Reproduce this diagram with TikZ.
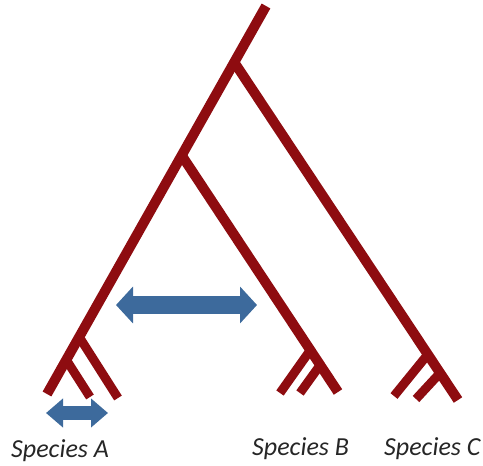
\documentclass[tikz,border=0pt]{standalone}
\usepackage{fontspec}
\setmainfont{Carlito}
\usetikzlibrary{calc}
\usetikzlibrary{arrows.meta}
\definecolor{treered}{RGB}{142,12,16}
\definecolor{gapblue}{RGB}{61,106,156}

\begin{document}
\begin{tikzpicture}[x=1pt, y=-1pt,
    branch/.style={treered, line width=10pt},
    twig/.style={treered, line width=9pt},
    gaparrow/.style={gapblue, line width=#1, {Triangle[length=17pt,width=2*#1]}-{Triangle[length=17pt,width=2*#1]}},
    species/.style={font=\fontsize{26}{30}\selectfont\itshape, text=black!85, anchor=base west, inner sep=0pt}]
    \useasboundingbox (0,0) rectangle (483,466);

    \coordinate (root) at (266, 6);
    \coordinate (leafA) at (47, 394);
    \coordinate (n1) at ($(root)!0.145!(leafA)$);
    \coordinate (n2) at ($(root)!0.385!(leafA)$);
    \coordinate (leafB) at (338, 392);
    \coordinate (leafC) at (458, 400);

    % main branches
    \draw [branch] (root) -- (leafA);
    \draw [branch] (n1) -- (leafC);
    \draw [branch] (n2) -- (leafB);

    % tips of species A
    \coordinate (a1) at ($(root)!0.853!(leafA)$);
    \coordinate (a2) at ($(root)!0.912!(leafA)$);
    \draw [twig] (a1) -- (118, 398);
    \draw [twig] (a2) -- (90, 397);

    % tips of species B
    \coordinate (b1) at ($(n2)!0.823!(leafB)$);
    \coordinate (b2) at ($(n2)!0.886!(leafB)$);
    \draw [twig] (b1) -- (280, 393);
    \draw [twig] (b2) -- (300, 393);

    % tips of species C
    \coordinate (c1) at ($(n1)!0.865!(leafC)$);
    \coordinate (c2) at ($(n1)!0.92!(leafC)$);
    \draw [twig] (c1) -- (394, 396);
    \draw [twig] (c2) -- (416, 399);

    % distances
    \coordinate (bigL) at (116, 305);
    \coordinate (bigR) at (257, 305);
    \draw [gaparrow=18pt] (bigL) -- (bigR);
    \coordinate (smallL) at (46, 413);
    \coordinate (smallR) at (108, 413);
    \draw [gaparrow=14pt] (smallL) -- (smallR);

    \node [species] (specA) at (11, 457) {Species A};
    \node [species] (specB) at (252, 455) {Species B};
    \node [species] (specC) at (384, 455) {Species C};
\end{tikzpicture}
\end{document}
